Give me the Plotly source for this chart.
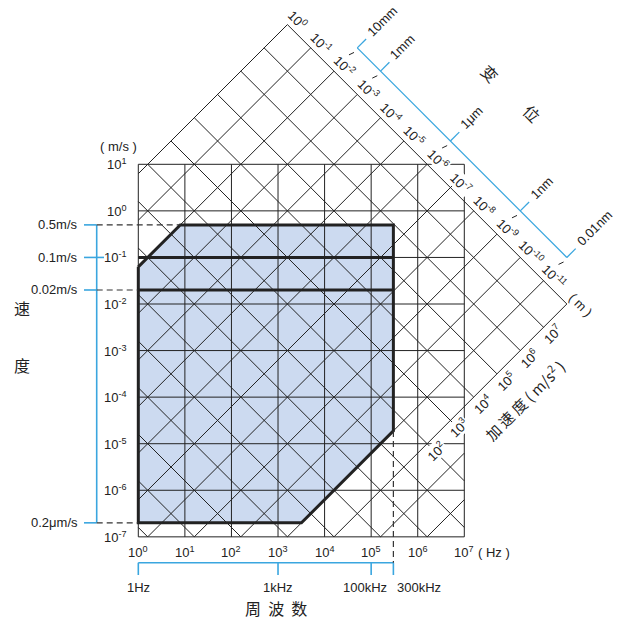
import math
import plotly.graph_objects as go

# ---------------- data ----------------
freq_exp = list(range(0, 8))                # frequency decades 10^0 .. 10^7 Hz
vel_exp = list(range(-7, 2))                # velocity decades 10^-7 .. 10^1 m/s
disp_label_exp = list(range(0, -12, -1))    # displacement labels 10^0 .. 10^-11 m
acc_label_exp = list(range(2, 8))           # acceleration labels 10^2 .. 10^7 m/s^2

vel_marks = [0.5, 0.1, 0.02, 2e-7]
vel_mark_text = ["0.5m/s", "0.1m/s", "0.02m/s", "0.2μm/s"]
freq_marks = [1, 1e3, 1e5, 3e5]
freq_mark_text = ["1Hz", "1kHz", "100kHz", "300kHz"]
disp_marks = [1e-2, 1e-3, 1e-6, 1e-9, 1e-11]
disp_mark_text = ["10mm", "1mm", "1μm", "1nm", "0.01nm"]

# operating range
F_MIN, F_MAX = 1.0, 3e5          # Hz
V_MIN, V_MAX = 2e-7, 0.5         # m/s
D_MAX, D_MIN = 1e-2, 1e-11       # m

# nomograph extent
D_GRID_TOP = 1e0                 # outer displacement line, upper left
D_GRID_BOTTOM = 1e-12            # outer displacement line, lower right
A_GRID_MAX = 1e8                 # outer acceleration line
A_SCALE = 1e9                    # acceleration line carrying the displacement scale

# ---------------- layout constants ----------------
W = H = 619
X_RANGE = [-2.970, 10.322]       # log10(Hz) across the full page
Y_RANGE = [-8.764, 4.528]        # log10(m/s) across the full page
BLUE = "#3aa6df"
INK = "#222222"
FILL = "#ccdaf0"
FONT = "Liberation Sans, Arial, Noto Sans CJK SC"
CJK = "Noto Sans CJK SC, Liberation Sans"

L2P = math.log10(2 * math.pi)
lg = math.log10


def px_to_X(px):
    return X_RANGE[0] + px / W * (X_RANGE[1] - X_RANGE[0])


def py_to_Y(py):
    return Y_RANGE[1] - py / H * (Y_RANGE[1] - Y_RANGE[0])


def on_disp_acc(d, a):
    """(f, v) where displacement d meets acceleration a."""
    return math.sqrt(a / d) / (2 * math.pi), math.sqrt(a * d)


def clip(s, c, halfplanes):
    """X-interval of the line Y = s*X + c inside {a*X + b*Y <= h}."""
    lo, hi = -1e9, 1e9
    for a, b, h in halfplanes:
        coef = a + b * s
        rhs = h - b * c
        if abs(coef) < 1e-12:
            if rhs < 0:
                return None
            continue
        if coef > 0:
            hi = min(hi, rhs / coef)
        else:
            lo = max(lo, rhs / coef)
    return (lo, hi) if lo < hi - 1e-9 else None


X0, X1 = freq_exp[0], freq_exp[-1]
Y0, Y1 = vel_exp[0], vel_exp[-1]
box = [(-1, 0, -X0), (1, 0, X1), (0, -1, -Y0), (0, 1, Y1)]
diamond = [(-1, 1, lg(D_GRID_TOP) + L2P),
           (1, 1, lg(A_GRID_MAX) - L2P),
           (1, -1, -(lg(D_GRID_BOTTOM) + L2P)),
           (-1, 0, -X0), (0, -1, -Y0)]


def diag_segments(s, c):
    ivs = [iv for iv in (clip(s, c, box), clip(s, c, diamond)) if iv]
    ivs.sort()
    merged = []
    for lo, hi in ivs:
        if merged and lo <= merged[-1][1] + 1e-9:
            merged[-1] = (merged[-1][0], max(merged[-1][1], hi))
        else:
            merged.append((lo, hi))
    return merged


fig = go.Figure()


def add_line(xs, ys, color=INK, width=1.0, dash=None):
    fig.add_trace(go.Scatter(x=xs, y=ys, mode="lines",
                             line=dict(color=color, width=width, dash=dash),
                             hoverinfo="skip", showlegend=False))


# ---------- operating region (shaded) ----------
region_f = [F_MIN, V_MAX / (2 * math.pi * D_MAX), F_MAX, F_MAX,
            V_MIN / (2 * math.pi * D_MIN), F_MIN, F_MIN]
region_v = [2 * math.pi * F_MIN * D_MAX, V_MAX, V_MAX,
            2 * math.pi * F_MAX * D_MIN, V_MIN, V_MIN,
            2 * math.pi * F_MIN * D_MAX]
fig.add_trace(go.Scatter(x=region_f, y=region_v, mode="lines", fill="toself",
                         fillcolor=FILL, line=dict(width=0),
                         hoverinfo="skip", showlegend=False))

# ---------- frequency / velocity grid ----------
gx, gy = [], []
for k in freq_exp:
    gx += [10 ** k, 10 ** k, None]
    gy += [10 ** Y0, 10 ** Y1, None]
for k in vel_exp:
    gx += [10 ** X0, 10 ** X1, None]
    gy += [10 ** k, 10 ** k, None]
add_line(gx, gy, width=1.0)

# ---------- displacement (slope +1) and acceleration (slope -1) lines ----------
dx, dy = [], []
for k in range(-16, 1):
    c = k + L2P
    for lo, hi in diag_segments(1, c):
        dx += [10 ** lo, 10 ** hi, None]
        dy += [10 ** (lo + c), 10 ** (hi + c), None]
for k in range(-8, 9):
    c = k - L2P
    for lo, hi in diag_segments(-1, c):
        dx += [10 ** lo, 10 ** hi, None]
        dy += [10 ** (c - lo), 10 ** (c - hi), None]
add_line(dx, dy, width=1.0)

# ---------- region outline and velocity bands ----------
add_line(region_f, region_v, width=3)
for v in vel_marks[1:3]:
    add_line([F_MIN, F_MAX], [v, v], width=3)

# ---------- velocity scale (left) ----------
X_VS = px_to_X(96.7)
X_VS_TICK = px_to_X(84)
add_line([10 ** X_VS, 10 ** X_VS], [vel_marks[0], vel_marks[-1]], color=BLUE, width=1.6)
for v in vel_marks:
    x_end = px_to_X(104) if v == 0.1 else X_VS
    add_line([10 ** X_VS_TICK, 10 ** x_end], [v, v], color=BLUE, width=1.6)
add_line([10 ** X_VS, V_MAX / (2 * math.pi * D_MAX)], [V_MAX, V_MAX],
         color="#333", width=1.2, dash="6px,4px")
for v in (vel_marks[2], vel_marks[3]):
    add_line([10 ** X_VS, F_MIN], [v, v], color="#333", width=1.2, dash="6px,4px")

# ---------- frequency scale (bottom) ----------
Y_FS = py_to_Y(562.7)
Y_FS_TICK = py_to_Y(575)
add_line([freq_marks[0], freq_marks[-1]], [10 ** Y_FS, 10 ** Y_FS], color=BLUE, width=1.6)
for f in freq_marks:
    add_line([f, f], [10 ** Y_FS, 10 ** Y_FS_TICK], color=BLUE, width=1.6)
add_line([F_MAX, F_MAX], [2 * math.pi * F_MAX * D_MIN, 10 ** Y_FS],
         color="#333", width=1.2, dash="6px,4px")

# ---------- displacement scale (diagonal, upper right) ----------
sf, sv = zip(*[on_disp_acc(d, A_SCALE) for d in (disp_marks[0], disp_marks[-1])])
add_line(list(sf), list(sv), color=BLUE, width=1.3)
TICK_A = A_SCALE * 10 ** 0.38
for d in disp_marks:
    f0, v0 = on_disp_acc(d, A_SCALE)
    f1, v1 = on_disp_acc(d, TICK_A)
    add_line([f0, f1], [v0, v1], color=BLUE, width=1.3)
    # small black marker next to the matching decade label
    fc, vc = on_disp_acc(d, A_GRID_MAX * 10 ** 0.752)
    Xc, Yc = lg(fc), lg(vc)
    add_line([10 ** (Xc - 0.054), 10 ** (Xc + 0.054)],
             [10 ** (Yc - 0.026), 10 ** (Yc + 0.026)], color=INK, width=1.0)

# ---------- annotations ----------
ann = []


def sup(k):
    return "10<sup>%s</sup>" % ("-%d" % -k if k < 0 else "%d" % k)


def text(x, y, t, size=13, angle=0, xa="center", ya="middle", xs=0, ys=0,
         bg=None, font=FONT, ref="data"):
    d = dict(x=x, y=y, text=t, showarrow=False, textangle=angle,
             xanchor=xa, yanchor=ya, xshift=xs, yshift=ys,
             font=dict(family=font, size=size, color=INK))
    if ref == "paper":
        d.update(xref="paper", yref="paper")
    if bg:
        d.update(bgcolor=bg, borderpad=0)
    ann.append(d)


for k in freq_exp:
    text(k, Y0, sup(k), ys=-15)
for k in vel_exp:
    text(X0, k, sup(k), xa="right", xs=-9)

for v, t in zip(vel_marks, vel_mark_text):
    text(px_to_X(80), lg(v), t, xa="right")
for f, t in zip(freq_marks, freq_mark_text):
    if t == "100kHz":
        text(lg(f), py_to_Y(587), t, xs=-6)
    elif t == "300kHz":
        text(lg(f), py_to_Y(587), t, xa="left", xs=2)
    else:
        text(lg(f), py_to_Y(587), t)

for k in disp_label_exp:
    f, v = on_disp_acc(10.0 ** k, A_GRID_MAX)
    text(lg(f), lg(v), sup(k), angle=45, xs=11, ys=5, bg="white")
for k in acc_label_exp:
    f, v = on_disp_acc(D_GRID_BOTTOM, 10.0 ** k)
    text(lg(f), lg(v), sup(k), angle=-45, xs=9, ys=-7, bg="white")
for d, t in zip(disp_marks, disp_mark_text):
    f, v = on_disp_acc(d, TICK_A)
    text(lg(f), lg(v), t, angle=-45, xa="left", ya="bottom", xs=-5, ys=-3)

# axis titles and units (page coordinates)
text(118.3 / W, 1 - 146 / H, "( m/s )", ref="paper")
text(476 / W, 1 - 552 / H, "( Hz )", xa="left", ref="paper")
text(580 / W, 1 - 305 / H, "( m )", angle=45, ref="paper")
text(21.7 / W, 1 - 308.3 / H, "速", size=16, font=CJK, ref="paper")
text(21.7 / W, 1 - 365 / H, "度", size=16, font=CJK, ref="paper")
text(276 / W, 1 - 608 / H, "周  波  数", size=16, font=CJK, ref="paper")
text(490 / W, 1 - 73.3 / H, "变", size=16, angle=45, font=CJK, ref="paper")
text(531.7 / W, 1 - 113.3 / H, "位", size=16, angle=45, font=CJK, ref="paper")
text(524 / W, 1 - 400 / H, "加 速 度 ( m/s<sup>2</sup> )", size=15, angle=-45,
     font=CJK, ref="paper")

fig.update_layout(
    width=W, height=H, margin=dict(l=0, r=0, t=0, b=0),
    paper_bgcolor="white", plot_bgcolor="white",
    xaxis=dict(type="log", range=X_RANGE, visible=False, fixedrange=True),
    yaxis=dict(type="log", range=Y_RANGE, visible=False, fixedrange=True),
    annotations=ann, showlegend=False, hovermode=False,
)

fig.write_html("out.html")
